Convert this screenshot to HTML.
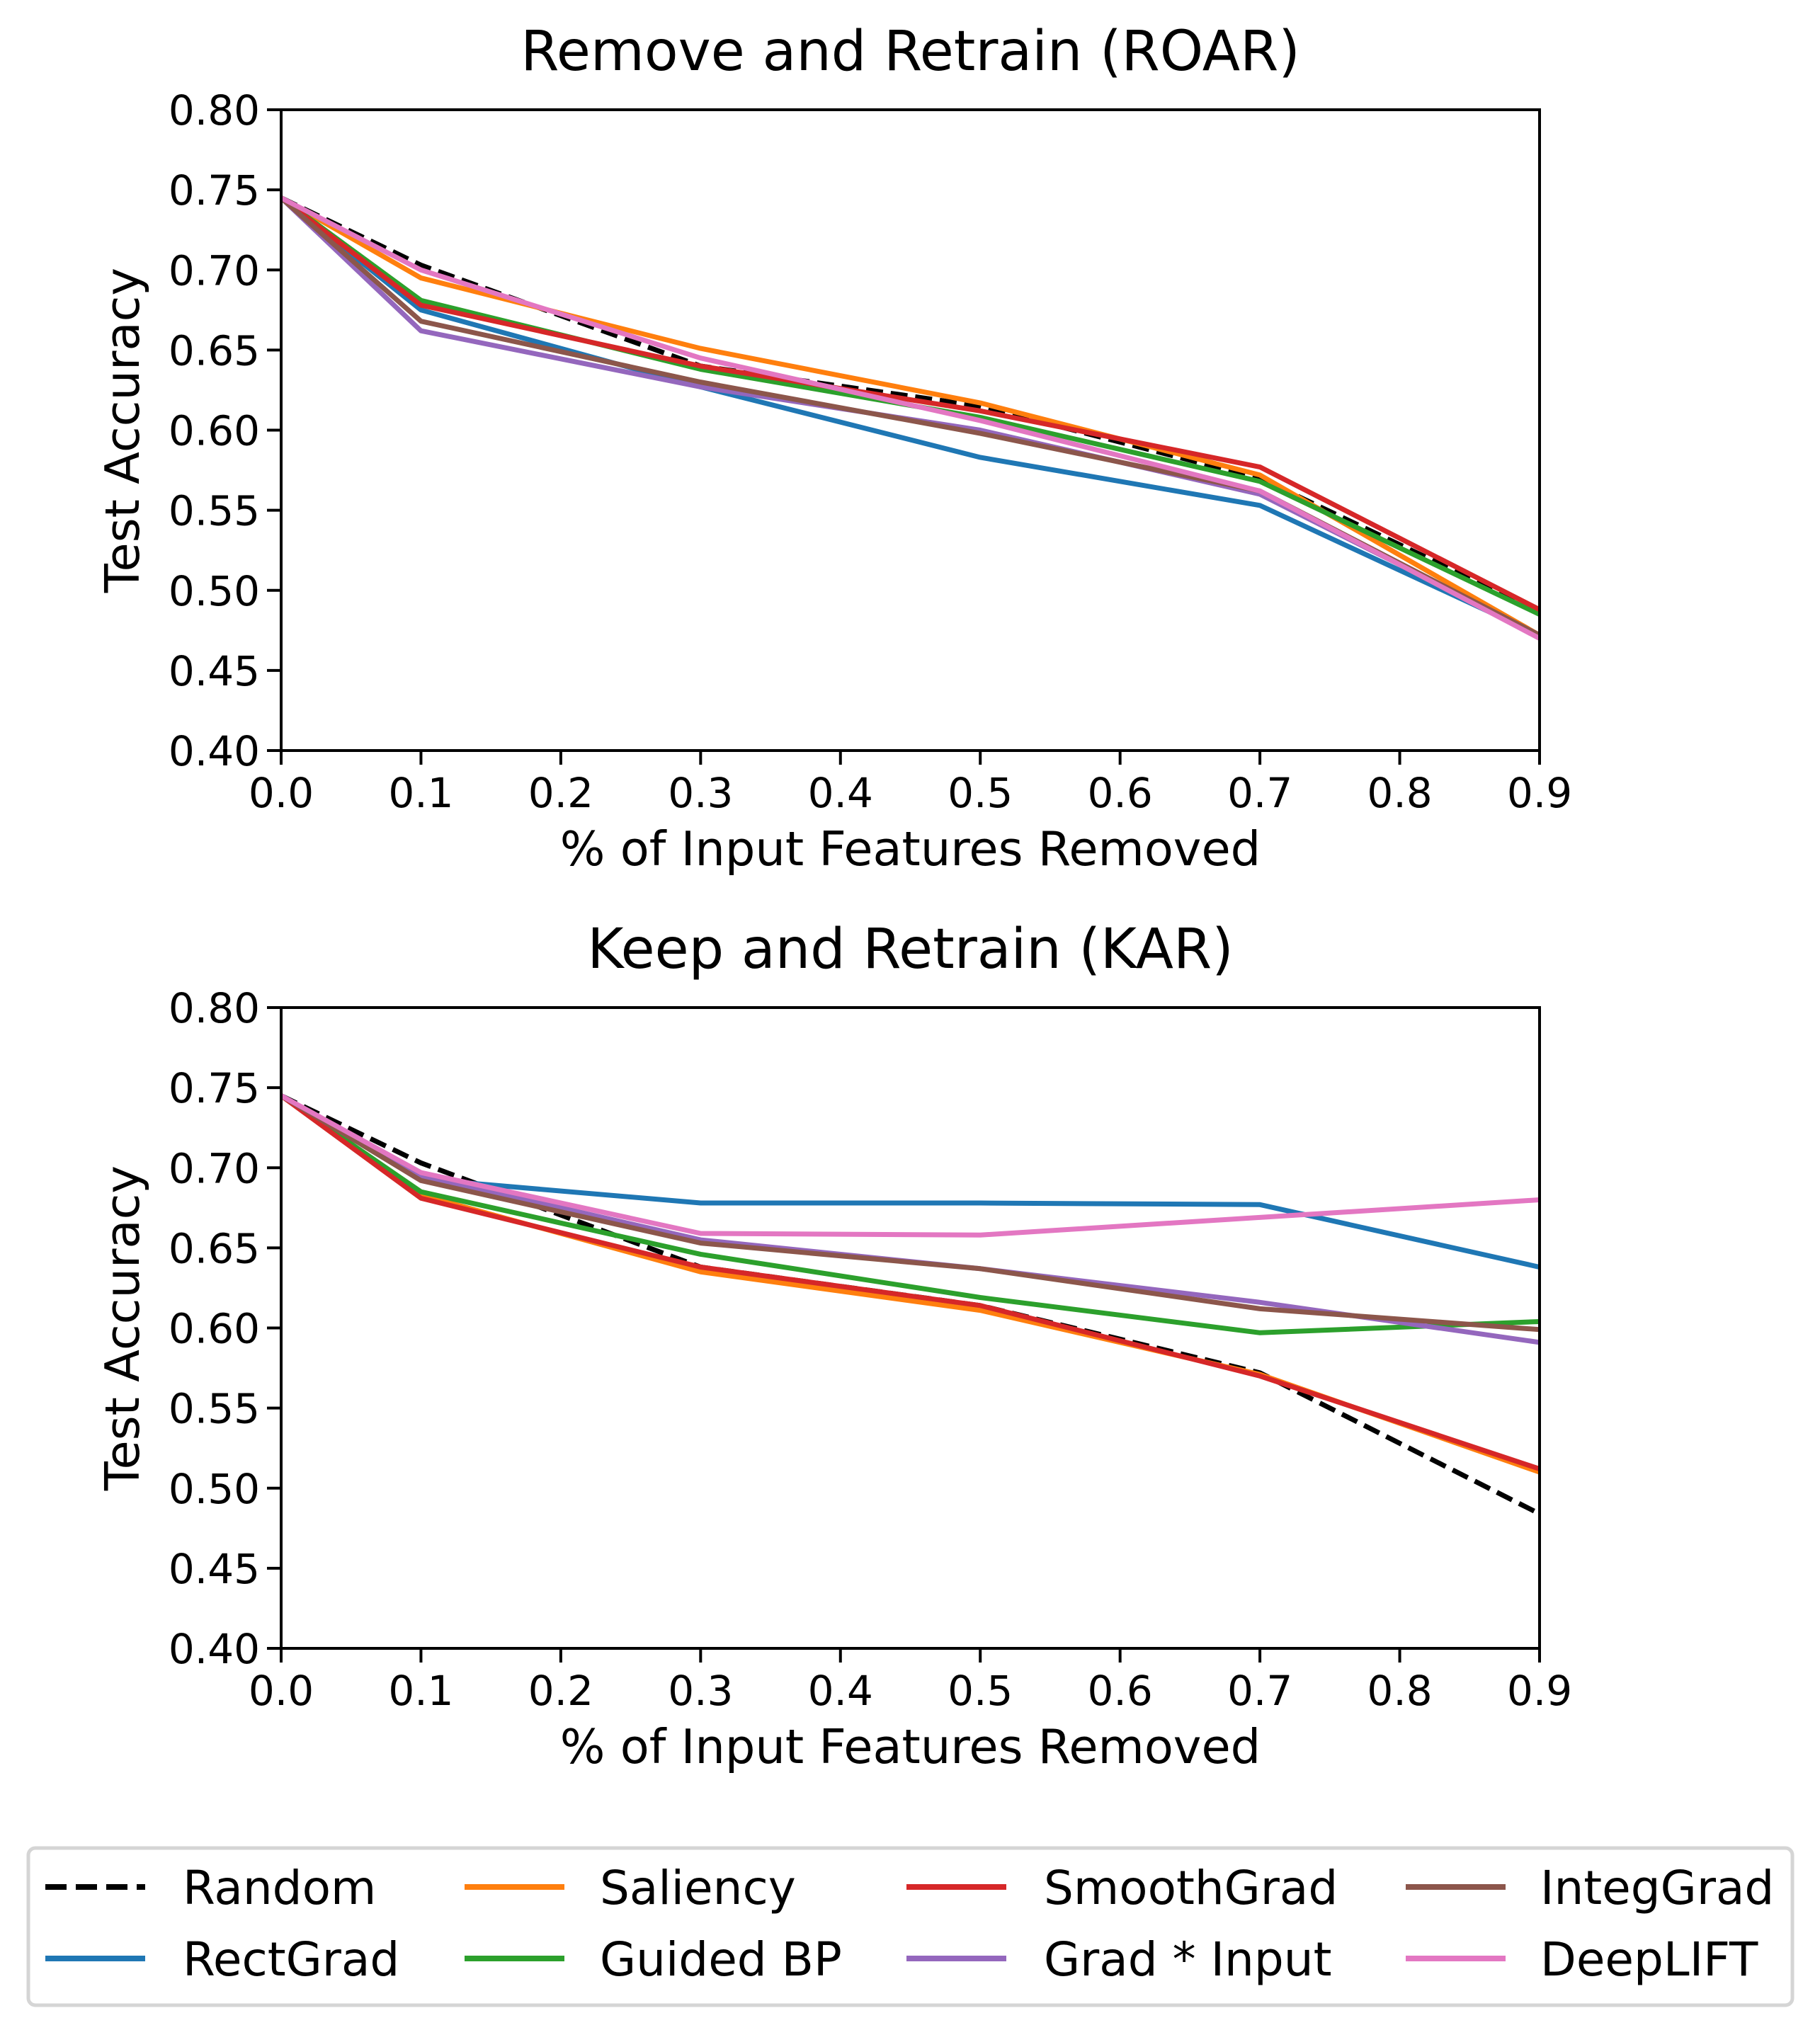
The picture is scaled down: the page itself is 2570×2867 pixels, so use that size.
<!DOCTYPE html>
<html><head><meta charset="utf-8"><style>
html,body{margin:0;padding:0;background:#fff}
svg{display:block;font-family:"DejaVu Sans","Liberation Sans",sans-serif}
</style></head><body>
<svg id="fig" width="2570" height="2867" viewBox="0 0 2570 2867" xmlns="http://www.w3.org/2000/svg">
<rect width="2570" height="2867" fill="#fff"/>
<g id="plots"></g>
<g id="legend">
<rect x="40" y="2610" width="2491" height="222" rx="10" fill="#fff" stroke="#d5d5d5" stroke-width="5"/>
</g>
</svg>
<script>
const xVals = [0, 0.1, 0.3, 0.5, 0.7, 0.9];
const xTicks = ["0.0","0.1","0.2","0.3","0.4","0.5","0.6","0.7","0.8","0.9"];
const yTicks = ["0.40","0.45","0.50","0.55","0.60","0.65","0.70","0.75","0.80"];
const seriesNames = ["Random","RectGrad","Saliency","Guided BP","SmoothGrad","Grad * Input","IntegGrad","DeepLIFT"];
const seriesColors = ["#000000","#1f77b4","#ff7f0e","#2ca02c","#d62728","#9467bd","#8c564b","#e377c2"];
const roarRandom = [0.745,0.703,0.640,0.615,0.570,0.487];
const roarRectGrad = [0.745,0.675,0.627,0.583,0.553,0.472];
const roarSaliency = [0.745,0.695,0.651,0.617,0.572,0.472];
const roarGuidedBP = [0.745,0.681,0.638,0.608,0.568,0.485];
const roarSmoothGrad = [0.745,0.678,0.640,0.612,0.577,0.488];
const roarGradInput = [0.745,0.662,0.627,0.600,0.560,0.472];
const roarIntegGrad = [0.745,0.668,0.630,0.598,0.562,0.472];
const roarDeepLIFT = [0.745,0.700,0.645,0.606,0.562,0.470];
const karRandom = [0.745,0.703,0.638,0.614,0.572,0.484];
const karRectGrad = [0.745,0.693,0.678,0.678,0.677,0.638];
const karSaliency = [0.745,0.683,0.635,0.611,0.571,0.510];
const karGuidedBP = [0.745,0.685,0.646,0.619,0.597,0.604];
const karSmoothGrad = [0.745,0.681,0.638,0.614,0.570,0.512];
const karGradInput = [0.745,0.695,0.655,0.637,0.616,0.591];
const karIntegGrad = [0.745,0.692,0.653,0.637,0.612,0.599];
const karDeepLIFT = [0.745,0.697,0.659,0.658,0.669,0.680];

const NS="http://www.w3.org/2000/svg";
function mk(tag, attrs, parent){const e=document.createElementNS(NS,tag);for(const k in attrs)e.setAttribute(k,attrs[k]);parent.appendChild(e);return e;}
const root=document.getElementById('plots');
const L=397,R=2174;
function drawPlot(top, title, data, prefix){
  const B=top+905;
  const g=mk('g',{},root);
  
  
  const xs=v=>L+(v-0)/(0.9)*(R-L);
  const ys=v=>B-(v-0.4)/0.4*(B-top);
  const t=mk('text',{x:(L+R)/2,y:top-56,'text-anchor':'middle','font-size':78},g);
  t.textContent=title;
  
  
  xTicks.forEach(s=>{const v=parseFloat(s);const x=xs(v);
    const tk=mk('line',{x1:x,x2:x,y1:B,y2:B+20,stroke:'#000','stroke-width':4},g);
    
    
    const tl=mk('text',{x:x,y:B+80,'text-anchor':'middle','font-size':58},g);tl.textContent=s;
    
    
  });
  yTicks.forEach(s=>{const v=parseFloat(s);const y=ys(v);
    const tk=mk('line',{x1:L-20,x2:L,y1:y,y2:y,stroke:'#000','stroke-width':4},g);
    
    
    const tl=mk('text',{x:L-30,y:y+21,'text-anchor':'end','font-size':58},g);tl.textContent=s;
    
    
  });
  const xl=mk('text',{x:(L+R)/2,y:B+162,'text-anchor':'middle','font-size':67},g);
  xl.textContent='% of Input Features Removed';
  
  
  const cy=(top+B)/2;
  const yl=mk('text',{x:196,y:cy,'text-anchor':'middle','font-size':67,transform:'rotate(-90 196 '+cy+')'},g);
  yl.textContent='Test Accuracy';
  
  
  const clip=mk('clipPath',{id:'clip-'+prefix},g);
  mk('rect',{x:L,y:top,width:R-L,height:B-top},clip);
  data.forEach((arr,i)=>{
    const pts=arr.map((v,j)=>xs(xVals[j])+','+ys(v)).join(' ');
    const a={points:pts,fill:'none',stroke:seriesColors[i],'stroke-width':7,'stroke-linejoin':'round','clip-path':'url(#clip-'+prefix+')'};
    if(i===0)a['stroke-dasharray']='24 11';
    const pl=mk('polyline',a,g);
    
    
  });
  const fr=mk('rect',{x:L,y:top,width:R-L,height:B-top,fill:'none',stroke:'#000','stroke-width':4},g);
  
  
}
drawPlot(155,'Remove and Retrain (ROAR)',[roarRandom,roarRectGrad,roarSaliency,roarGuidedBP,roarSmoothGrad,roarGradInput,roarIntegGrad,roarDeepLIFT],'roar');
drawPlot(1423,'Keep and Retrain (KAR)',[karRandom,karRectGrad,karSaliency,karGuidedBP,karSmoothGrad,karGradInput,karIntegGrad,karDeepLIFT],'kar');

const lg=document.getElementById('legend');
const colHandle=[64,656,1280,1985], colText=[258,847,1474,2175], rowY=[2665,2766];
const order=[0,2,4,6,1,3,5,7];
order.forEach((si,k)=>{
  const col=k%4,row=Math.floor(k/4);
  const y=rowY[row];
  const a={x1:colHandle[col],x2:colHandle[col]+141,y1:y,y2:y,stroke:seriesColors[si],'stroke-width':8};
  if(si===0)a['stroke-dasharray']='30 13';
  const ln=mk('line',a,lg);
  
  
  const tx=mk('text',{x:colText[col],y:y+24,'font-size':66},lg);
  tx.textContent=seriesNames[si];
  
  
});
</script>
</body></html>
